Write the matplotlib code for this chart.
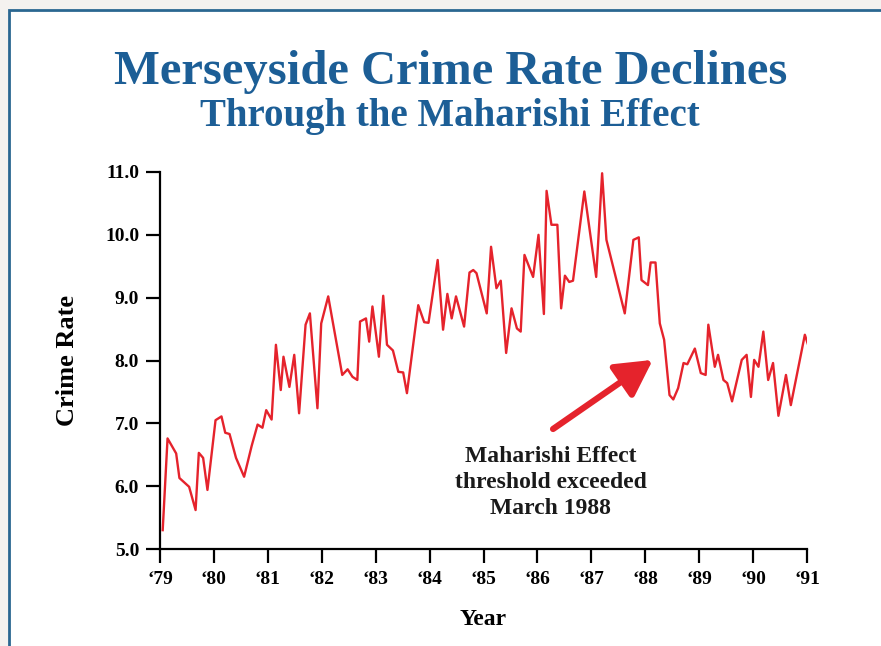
import matplotlib
matplotlib.use("Agg")
import matplotlib.pyplot as plt
from matplotlib.patches import Rectangle

# crime rate, x in decimal years
years = [1979.05, 1979.14, 1979.30, 1979.36, 1979.54, 1979.66, 1979.72, 1979.80, 1979.88,
         1980.03, 1980.14, 1980.21, 1980.29, 1980.41, 1980.56, 1980.70, 1980.81, 1980.90, 1980.97,
         1981.07, 1981.15, 1981.24, 1981.29, 1981.40, 1981.49, 1981.58, 1981.70, 1981.78, 1981.92,
         1981.99, 1982.12, 1982.38, 1982.48, 1982.57, 1982.66, 1982.71, 1982.82, 1982.88, 1982.94,
         1983.06, 1983.14, 1983.21, 1983.32, 1983.42, 1983.51, 1983.58, 1983.79, 1983.90, 1983.98,
         1984.15, 1984.25, 1984.33, 1984.41, 1984.49, 1984.64, 1984.74, 1984.81, 1984.87,
         1985.06, 1985.14, 1985.24, 1985.32, 1985.42, 1985.52, 1985.62, 1985.69, 1985.76, 1985.92,
         1986.02, 1986.12, 1986.17, 1986.26, 1986.37, 1986.44, 1986.51, 1986.59, 1986.66, 1986.87,
         1987.09, 1987.20, 1987.28, 1987.62, 1987.78, 1987.88, 1987.93,
         1988.05, 1988.10, 1988.19, 1988.27, 1988.35, 1988.45, 1988.52, 1988.61, 1988.71, 1988.78, 1988.92,
         1989.03, 1989.12, 1989.17, 1989.29, 1989.35, 1989.45, 1989.52, 1989.61, 1989.79, 1989.88, 1989.96,
         1990.02, 1990.10, 1990.19, 1990.28, 1990.37, 1990.47, 1990.61, 1990.70, 1990.96, 1991.02]
rate = [5.30, 6.76, 6.52, 6.13, 5.99, 5.62, 6.53, 6.45, 5.94,
        7.05, 7.11, 6.85, 6.83, 6.45, 6.15, 6.64, 6.98, 6.93, 7.21,
        7.06, 8.25, 7.53, 8.06, 7.58, 8.09, 7.16, 8.57, 8.75, 7.24,
        8.59, 9.02, 7.77, 7.86, 7.74, 7.69, 8.62, 8.67, 8.30, 8.86,
        8.06, 9.03, 8.25, 8.16, 7.82, 7.81, 7.48, 8.88, 8.61, 8.60,
        9.60, 8.49, 9.06, 8.67, 9.02, 8.54, 9.40, 9.44, 9.39,
        8.75, 9.81, 9.15, 9.27, 8.12, 8.83, 8.51, 8.46, 9.68, 9.33,
        10.00, 8.74, 10.70, 10.16, 10.16, 8.83, 9.35, 9.25, 9.27, 10.69,
        9.33, 10.98, 9.92, 8.75, 9.92, 9.96, 9.28,
        9.20, 9.56, 9.56, 8.59, 8.33, 7.45, 7.38, 7.56, 7.96, 7.94, 8.19,
        7.80, 7.77, 8.57, 7.90, 8.09, 7.69, 7.64, 7.35, 8.01, 8.09, 7.42,
        8.01, 7.90, 8.46, 7.69, 7.96, 7.12, 7.77, 7.29, 8.41, 8.25]

tick_years = list(range(1979, 1992))
tick_labels = ["\u2018%02d" % (y % 100) for y in tick_years]
y_ticks = [5.0, 6.0, 7.0, 8.0, 9.0, 10.0, 11.0]

RED = "#e5232c"
BLUE = "#1c5e96"
SERIF = "Liberation Serif"

plt.rcParams["font.family"] = SERIF
plt.rcParams["font.weight"] = "bold"

fig = plt.figure(figsize=(8.81, 6.46), dpi=100, facecolor="#f4f2ef")
# white panel with the blue frame
fig.patches.append(Rectangle((9 / 881, -0.05), 1.1, 1 - 10 / 646 + 0.05,
                             transform=fig.transFigure, facecolor="white",
                             edgecolor="#2a6791", linewidth=2, zorder=-10))

fig.text(0.511, 0.888, "Merseyside Crime Rate Declines", ha="center", va="center",
         fontsize=35, color=BLUE, fontweight="bold")
fig.text(0.511, 0.820, "Through the Maharishi Effect", ha="center", va="center",
         fontsize=28, color=BLUE, fontweight="bold")

ax = fig.add_axes([160 / 881, 1 - 549 / 646, (807 - 160) / 881, (549 - 172) / 646])
ax.plot(years, rate, color=RED, lw=1.7, zorder=3)

ax.set_xlim(1979, 1991)
ax.set_ylim(5.0, 11.0)
ax.set_xticks(tick_years)
ax.set_xticklabels(tick_labels)
ax.set_yticks(y_ticks)
ax.set_yticklabels(["%.1f" % v for v in y_ticks])
ax.tick_params(direction="out", length=10, width=1.6, labelsize=14)
ax.tick_params(axis="y", pad=5)
ax.tick_params(axis="x", pad=6)
for side in ["top", "right"]:
    ax.spines[side].set_visible(False)
for side in ["left", "bottom"]:
    ax.spines[side].set_linewidth(1.6)
ax.patch.set_alpha(0)

ax.set_xlabel("Year", fontsize=17, fontweight="bold", labelpad=15)
ax.set_ylabel("Crime Rate", fontsize=19, fontweight="bold", labelpad=19)

ax.annotate("", xy=(1988.14, 8.01), xytext=(1986.29, 6.91),
            arrowprops=dict(arrowstyle="-|>,head_length=1.1,head_width=0.6",
                            mutation_scale=20, color=RED, lw=4.5,
                            shrinkA=0, shrinkB=0))
ax.text(1986.25, 6.06, "Maharishi Effect\nthreshold exceeded\nMarch 1988",
        ha="center", va="center", fontsize=17, fontweight="bold",
        color="#1a1a1a", linespacing=1.3)

fig.savefig("out.png", dpi=100, facecolor=fig.get_facecolor())
